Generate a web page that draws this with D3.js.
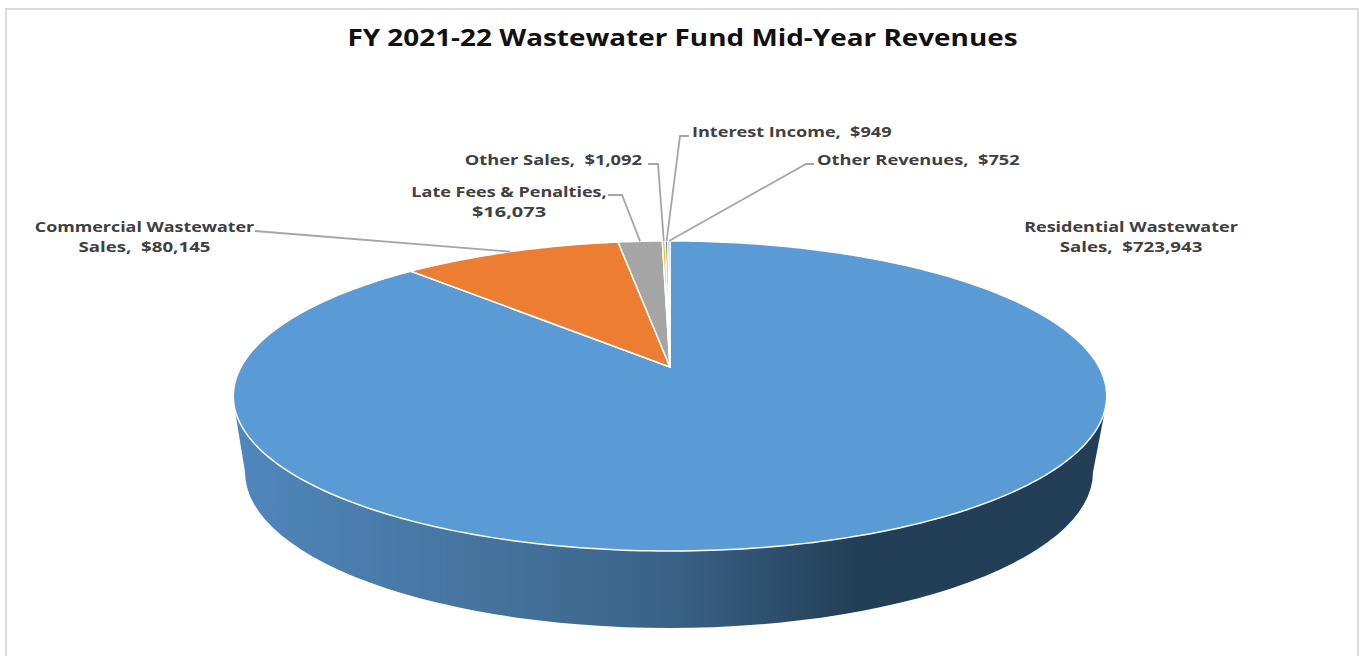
<!DOCTYPE html>
<html>
<head>
<meta charset="utf-8">
<script src="https://cdn.jsdelivr.net/npm/d3@7"></script>
<style>
  html, body { margin: 0; padding: 0; background: #fff; overflow: hidden; }
  text { font-family: "Open Sans", sans-serif; font-weight: 700; }
</style>
</head>
<body>
<div class="canvas"></div>
<script>
const title = 'FY 2021-22 Wastewater Fund Mid-Year Revenues';
const categories = ['Residential Wastewater Sales', 'Commercial Wastewater Sales', 'Late Fees & Penalties', 'Other Sales', 'Interest Income', 'Other Revenues'];
const revenues = [723943, 80145, 16073, 1092, 949, 752];
const colors = ['#5b9bd5', '#ed7d31', '#a5a5a5', '#ffc000', '#4472c4', '#70ad47'];

// where each label sits: text anchor point, words on the first line, width factor per line, elbow of the leader
const labelLayout = [
  { x: 1131, y: 232, anchor: 'middle', words: 2, widen: [1.2, 1.245] },
  { x: 144.5, y: 232, anchor: 'middle', words: 2, widen: [1.19, 1.245], from: [255, 231] },
  { x: 509, y: 197, anchor: 'middle', words: 4, widen: [1.2, 1.33], from: [608, 195], elbow: [622, 195] },
  { x: 642, y: 165, anchor: 'end', widen: [1.22], from: [648, 164], elbow: [658, 164] },
  { x: 692, y: 137, anchor: 'start', widen: [1.205], from: [689, 136], elbow: [680, 136] },
  { x: 817, y: 165, anchor: 'start', widen: [1.218], from: [814, 164], elbow: [806, 164] }
];

const dims = { width: 1359, height: 656 };

// pie top is a tilted circle, so the centre does not sit in the middle of the ellipse
const tilt = { cx: 670, cy: 367, rx: 429, ry: 149.6, k: 0.187 };
// lower edge of the side wall
const rim = { cx: 669, cy: 472, rx: 424, ry: 156 };

const project = (angle, r = 1) => {
  const u = Math.sin(angle) * r;
  const v = Math.cos(angle) * r;
  const den = 1 + tilt.k * v;
  return [tilt.cx + tilt.rx * u / den, tilt.cy - tilt.ry * v / den];
};

// the picture is wider than the font, stretch each line to suit
const stretch = (sel, factor) => {
  sel.each(function() {
    const w = this.getComputedTextLength();
    d3.select(this)
      .attr('textLength', w * factor)
      .attr('lengthAdjust', 'spacingAndGlyphs');
  });
};

const svg = d3.select('.canvas')
  .append('svg')
  .attr('width', dims.width)
  .attr('height', dims.height);

svg.append('rect')
  .attr('width', dims.width)
  .attr('height', dims.height)
  .attr('fill', '#fff');

// chart frame
svg.append('path')
  .attr('d', `M6,656V9H1358V656`)
  .attr('fill', 'none')
  .attr('stroke', '#dcdcdc')
  .attr('stroke-width', 2);

svg.append('text')
  .attr('x', 682.5)
  .attr('y', 46)
  .attr('text-anchor', 'middle')
  .attr('font-size', 23)
  .attr('fill', '#111')
  .text(title)
  .call(stretch, 1.212);

// side wall shading
const grad = svg.append('defs').append('linearGradient')
  .attr('id', 'wall')
  .attr('gradientUnits', 'userSpaceOnUse')
  .attr('x1', rim.cx - rim.rx)
  .attr('x2', rim.cx + rim.rx)
  .attr('y1', 0)
  .attr('y2', 0);
[[0, '#4f86bb'], [0.3, '#44729c'], [0.5, '#3a6288'], [0.72, '#233f57'], [1, '#233f57']].forEach(s => {
  grad.append('stop').attr('offset', s[0]).attr('stop-color', s[1]);
});

const wallAngles = d3.range(0, 181, 3).map(d => d * Math.PI / 180);
const wallPoints = wallAngles.map(t => [rim.cx - rim.rx * Math.cos(t), rim.cy + rim.ry * Math.sin(t)]);
const wallLine = d3.line();

svg.append('path')
  .attr('d', wallLine([project(-1.83), ...wallPoints, project(1.83)]) + 'Z')
  .attr('fill', 'url(#wall)');

// slices
const pie = d3.pie().sort(null);
const arcs = pie(revenues);

const slicePath = d => {
  const n = Math.max(2, Math.ceil((d.endAngle - d.startAngle) * 60));
  const pts = d3.range(n + 1).map(i => project(d.startAngle + (d.endAngle - d.startAngle) * i / n));
  return wallLine([project(0, 0), ...pts]) + 'Z';
};

svg.append('g').selectAll('path')
  .data(arcs)
  .enter()
  .append('path')
    .attr('d', slicePath)
    .attr('fill', (d, i) => colors[i])
    .attr('stroke', '#fff')
    .attr('stroke-width', 1.5)
    .attr('stroke-linejoin', 'round');

// leader lines run to the middle of each slice on the rim
const leaders = svg.append('g');
arcs.forEach((d, i) => {
  const l = labelLayout[i];
  if (!l.from) return;
  const end = project((d.startAngle + d.endAngle) / 2);
  const pts = l.elbow ? [l.from, l.elbow, end] : [l.from, end];
  leaders.append('path')
    .attr('d', wallLine(pts))
    .attr('fill', 'none')
    .attr('stroke', '#a6a6a6')
    .attr('stroke-width', 1.8);
});

// data labels
const money = d3.format('$,');
const labels = svg.append('g');
categories.forEach((c, i) => {
  const l = labelLayout[i];
  const text = `${c},  ${money(revenues[i])}`;
  const words = text.split(' ');
  const lines = l.words ? [words.slice(0, l.words).join(' '), words.slice(l.words).join(' ').trim()] : [text];
  lines.forEach((t, j) => {
    labels.append('text')
      .attr('x', l.x)
      .attr('y', l.y + j * 20)
      .attr('text-anchor', l.anchor)
      .attr('font-size', 15)
      .attr('fill', '#404040')
      .attr('xml:space', 'preserve')
      .text(t)
      .call(stretch, l.widen[j]);
  });
});
</script>
</body>
</html>
